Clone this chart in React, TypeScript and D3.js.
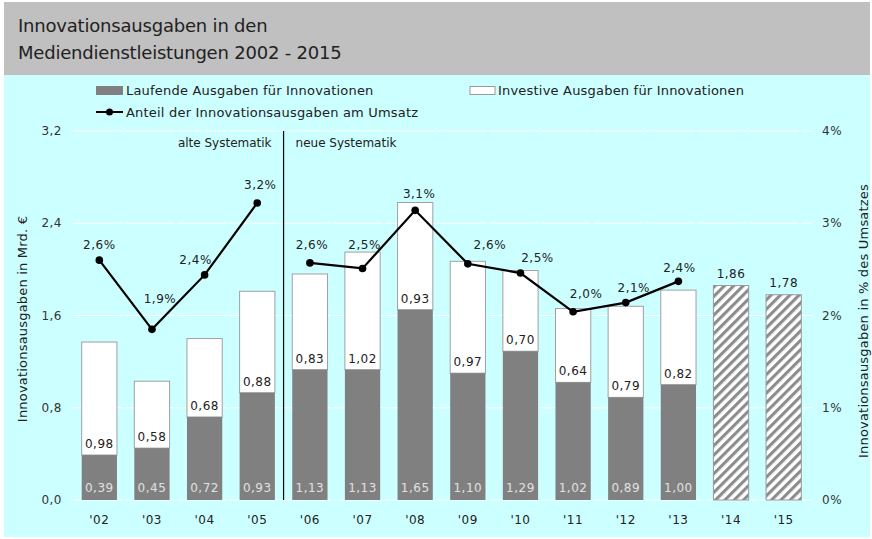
import React from "react";
import * as d3 from "d3";

const years = ["'02", "'03", "'04", "'05", "'06", "'07", "'08", "'09", "'10", "'11", "'12", "'13", "'14", "'15"];
const laufende = [0.39, 0.45, 0.72, 0.93, 1.13, 1.13, 1.65, 1.1, 1.29, 1.02, 0.89, 1.0];
const investive = [0.98, 0.58, 0.68, 0.88, 0.83, 1.02, 0.93, 0.97, 0.7, 0.64, 0.79, 0.82];
const planned = [
  { year: "'14", total: 1.86 },
  { year: "'15", total: 1.78 },
];
const anteil = [2.6, 1.85, 2.44, 3.22, 2.57, 2.51, 3.14, 2.56, 2.46, 2.04, 2.14, 2.37];
const leftTicks = [0, 0.8, 1.6, 2.4, 3.2];
const rightTicks = [0, 1, 2, 3, 4];

// label placement (layout only): [dx, dy] relative to each line point
const pctLabelOffset: [number, number][] = [
  [0, -11], [8, -26], [-9, -11], [3, -14], [2, -14], [2, -19],
  [4, -12], [22, -15], [17, -11], [13, -14], [8, -11], [1, -9],
];

const W = 872;
const H = 539;
const FONT = "DejaVu Sans, Verdana, sans-serif";
const fmt2 = (v: number) => v.toFixed(2).replace(".", ",");
const fmt1 = (v: number) => v.toFixed(1).replace(".", ",");
const LS = 0.5;

export default function App() {
  const x = d3.scaleBand<string>().domain(years).range([73, 810]).paddingInner(0.33).paddingOuter(0.165);
  const y = d3.scaleLinear().domain([0, 3.2]).range([500, 131]);
  const yr = d3.scaleLinear().domain([0, 4]).range([500, 131]);
  const bw = x.bandwidth();
  const cx = (yr0: string) => (x(yr0) ?? 0) + bw / 2;

  const line = d3
    .line<number>()
    .x((_, i) => cx(years[i]))
    .y((d) => yr(d));
  const oldIdx = [0, 1, 2, 3];
  const newIdx = [4, 5, 6, 7, 8, 9, 10, 11];
  const sepX = ((x(years[3]) ?? 0) + bw + (x(years[4]) ?? 0)) / 2;

  return (
    <svg width={W} height={H} style={{ display: "block", position: "absolute", left: 0, top: 0 }} fontFamily={FONT}>
      <defs>
        <pattern id="hatch" patternUnits="userSpaceOnUse" width="6.6" height="6.6" patternTransform="rotate(45)">
          <rect width="6.6" height="6.6" fill="#ffffff" />
          <rect x="0" y="0" width="3.1" height="6.6" fill="#8c8c8c" />
        </pattern>
      </defs>
      <rect x={0} y={0} width={W} height={H} fill="#ffffff" />
      <rect x={4} y={2} width={W - 6} height={73} fill="#c0c0c0" />
      <rect x={4} y={75} width={W - 6} height={462} fill="#ccffff" />
      <text x={18} y={32} fontSize={18} letterSpacing={-0.2} fill="#222">Innovationsausgaben in den</text>
      <text x={18} y={59} fontSize={18} letterSpacing={-0.2} fill="#222">Mediendienstleistungen 2002 - 2015</text>

      {/* legend */}
      <rect x={96} y={86} width={27} height={9} fill="#808080" />
      <text x={126} y={95} fontSize={13} letterSpacing={0.2} fill="#222">Laufende Ausgaben für Innovationen</text>
      <rect x={470} y={86.5} width={25} height={8} fill="#ffffff" stroke="#999" />
      <text x={498} y={95} fontSize={13} letterSpacing={0.2} fill="#222">Investive Ausgaben für Innovationen</text>
      <line x1={96} x2={123} y1={112} y2={112} stroke="#000" strokeWidth={2} />
      <circle cx={109.5} cy={112} r={3.5} fill="#000" />
      <text x={126} y={117} fontSize={13} letterSpacing={0.2} fill="#222">Anteil der Innovationsausgaben am Umsatz</text>

      {/* grid */}
      {leftTicks.map((t) => (
        <line key={t} x1={73} x2={812} y1={y(t)} y2={y(t)} stroke="#ffffff" strokeWidth={1.2} strokeDasharray="50 2" />
      ))}
      {leftTicks.map((t) => (
        <text key={"l" + t} x={62} y={y(t) + 4} fontSize={12} letterSpacing={LS} fill="#333" textAnchor="end">
          {fmt1(t)}
        </text>
      ))}
      {rightTicks.map((t) => (
        <text key={"r" + t} x={822} y={yr(t) + 4} fontSize={12} letterSpacing={LS} fill="#333">
          {t}%
        </text>
      ))}
      <text transform={`translate(27,${319}) rotate(-90)`} fontSize={13} letterSpacing={0.2} fill="#222" textAnchor="middle">
        Innovationsausgaben in Mrd. €
      </text>
      <text transform={`translate(868,${321}) rotate(-90)`} fontSize={13} letterSpacing={0.2} fill="#222" textAnchor="middle">
        Innovationsausgaben in % des Umsatzes
      </text>

      {/* bars */}
      {laufende.map((v, i) => {
        const x0 = x(years[i]) ?? 0;
        const top = investive[i] + v;
        return (
          <g key={years[i]}>
            <rect x={x0} y={y(top)} width={bw} height={y(v) - y(top)} fill="#ffffff" stroke="#a0a0a0" strokeWidth={1} />
            <rect x={x0} y={y(v)} width={bw} height={y(0) - y(v)} fill="#808080" />
            <text x={x0 + bw / 2} y={y(v) - 7} fontSize={12} letterSpacing={LS} fill="#222" textAnchor="middle">
              {fmt2(investive[i])}
            </text>
            <text x={x0 + bw / 2} y={y(0) - 8} fontSize={12} letterSpacing={LS} fill="#e0e0e0" textAnchor="middle">
              {fmt2(v)}
            </text>
          </g>
        );
      })}
      {planned.map((p) => {
        const x0 = x(p.year) ?? 0;
        return (
          <g key={p.year}>
            <rect x={x0} y={y(p.total)} width={bw} height={y(0) - y(p.total)} fill="url(#hatch)" stroke="#999" strokeWidth={1} />
            <text x={x0 + bw / 2} y={y(p.total) - 8} fontSize={12} letterSpacing={LS} fill="#222" textAnchor="middle">
              {fmt2(p.total)}
            </text>
          </g>
        );
      })}

      {/* x labels */}
      {years.map((yy) => (
        <text key={yy} x={cx(yy)} y={524} fontSize={12} letterSpacing={LS} fill="#222" textAnchor="middle">
          {yy}
        </text>
      ))}

      {/* separator */}
      <line x1={sepX} x2={sepX} y1={131} y2={500} stroke="#000" strokeWidth={1.2} />
      <text x={sepX - 12} y={147} fontSize={12} fill="#222" textAnchor="end">alte Systematik</text>
      <text x={sepX + 12} y={147} fontSize={12} fill="#222">neue Systematik</text>

      {/* line */}
      <path d={line.x((_, i) => cx(years[oldIdx[i]]))(oldIdx.map((i) => anteil[i])) ?? ""} fill="none" stroke="#000" strokeWidth={2.2} />
      <path d={line.x((_, i) => cx(years[newIdx[i]]))(newIdx.map((i) => anteil[i])) ?? ""} fill="none" stroke="#000" strokeWidth={2.2} />
      {anteil.map((a, i) => (
        <g key={"p" + i}>
          <circle cx={cx(years[i])} cy={yr(a)} r={3.8} fill="#000" />
          <text
            x={cx(years[i]) + pctLabelOffset[i][0]}
            y={yr(a) + pctLabelOffset[i][1]}
            fontSize={12}
            letterSpacing={LS}
            fill="#222"
            textAnchor="middle"
          >
            {fmt1(a)}%
          </text>
        </g>
      ))}
    </svg>
  );
}
